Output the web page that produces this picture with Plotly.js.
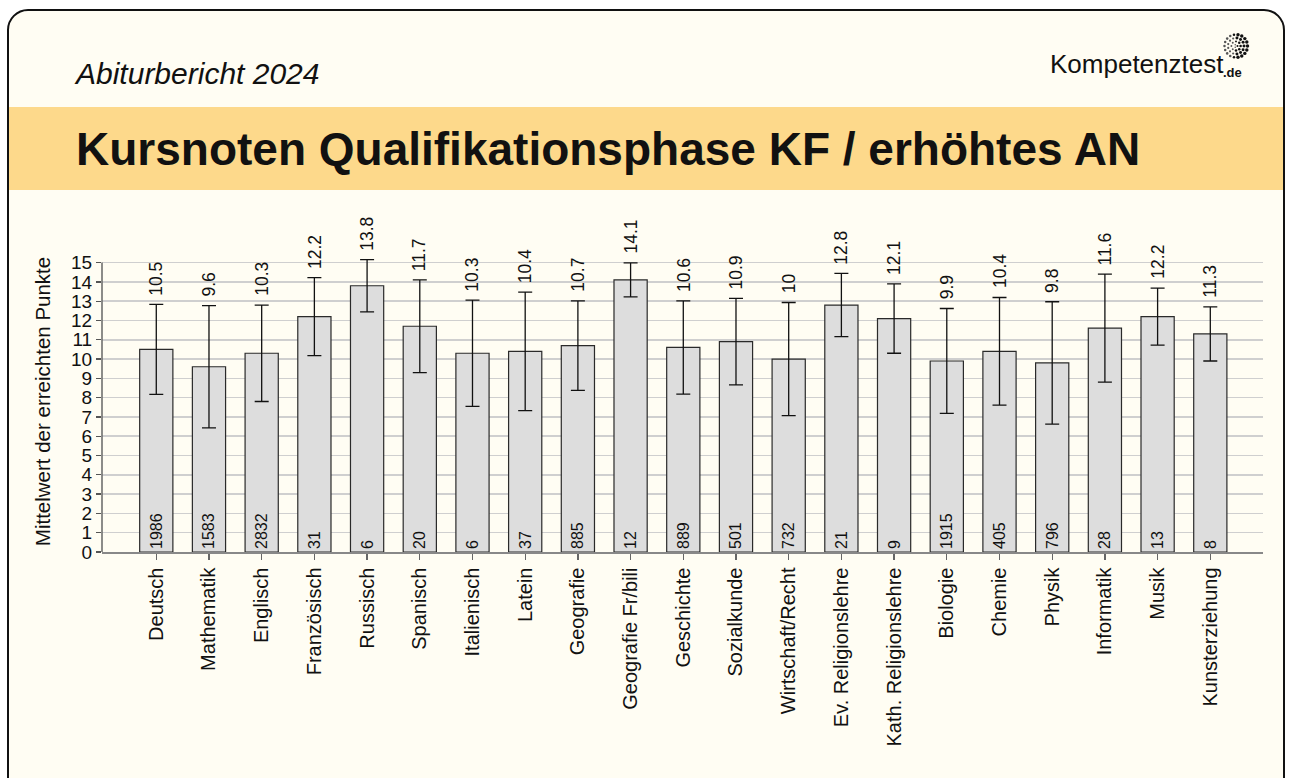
<!DOCTYPE html>
<html>
<head>
<meta charset="utf-8">
<script src="https://cdn.plot.ly/plotly-3.0.1.min.js"></script>
<style>
  html, body { margin:0; padding:0; background:#ffffff; width:1289px; height:778px; overflow:hidden; }
  #card { position:absolute; left:7px; top:9px; width:1278px; height:830px; box-sizing:border-box;
          border:2px solid #111; border-radius:21px; background:#fffdf3; }
  #band { position:absolute; left:9px; top:107px; width:1274px; height:83px; background:#fdd98b; }
  #logoicon { position:absolute; left:1222px; top:32px; }
  #chart { position:absolute; left:0; top:0; width:1289px; height:778px; }
</style>
</head>
<body>
<div id="card"></div>
<div id="band"></div>
<svg id="logoicon" width="30" height="30" viewBox="0 0 30 30"></svg>
<div id="chart"></div>
<script>
// ---- data ----
const subjects = ["Deutsch","Mathematik","Englisch","Französisch","Russisch","Spanisch","Italienisch","Latein","Geografie","Geografie Fr/bili","Geschichte","Sozialkunde","Wirtschaft/Recht","Ev. Religionslehre","Kath. Religionslehre","Biologie","Chemie","Physik","Informatik","Musik","Kunsterziehung"];
const means = [10.5, 9.6, 10.3, 12.2, 13.8, 11.7, 10.3, 10.4, 10.7, 14.1, 10.6, 10.9, 10, 12.8, 12.1, 9.9, 10.4, 9.8, 11.6, 12.2, 11.3];
const sds = [2.33, 3.17, 2.5, 2.02, 1.35, 2.4, 2.75, 3.07, 2.32, 0.88, 2.42, 2.24, 2.93, 1.64, 1.8, 2.72, 2.79, 3.17, 2.8, 1.48, 1.4];
const counts = [1986, 1583, 2832, 31, 6, 20, 6, 37, 885, 12, 889, 501, 732, 21, 9, 1915, 405, 796, 28, 13, 8];
const yTicks = [0,1,2,3,4,5,6,7,8,9,10,11,12,13,14,15];

// ---- logo icon (decorative) ----
(function(){
  const svg = document.getElementById('logoicon');
  const cx = 14, cy = 14;
  const rings = [[11.5, 18, 1.5], [8, 13, 1.3], [4.6, 8, 1.1], [1.5, 3, 0.9]];
  rings.forEach(function(r){
    for (let k = 0; k < r[1]; k++) {
      const a = 2*Math.PI*k/r[1];
      const x = cx + r[0]*Math.cos(a), y = cy + r[0]*Math.sin(a);
      const dark = Math.cos(a) > -0.2 ? '#111' : '#555';
      const c = document.createElementNS('http://www.w3.org/2000/svg','circle');
      c.setAttribute('cx', x.toFixed(2)); c.setAttribute('cy', y.toFixed(2));
      c.setAttribute('r', (r[2] * (Math.cos(a) > 0 ? 1.15 : 0.85)).toFixed(2));
      c.setAttribute('fill', dark);
      svg.appendChild(c);
    }
  });
})();

const FONT = "Liberation Sans, Arial, Helvetica, sans-serif";

const barTrace = {
  type: 'bar',
  x: subjects,
  y: means,
  width: 0.63,
  marker: { color: '#dddddd', line: { color: '#2a2a2a', width: 1.2 } },
  error_y: { type: 'data', array: sds, symmetric: true, visible: true, color: '#111111', thickness: 1.3, width: 7 },
  text: counts.map(String),
  textposition: 'inside',
  insidetextanchor: 'start',
  textangle: -90,
  constraintext: 'none',
  insidetextfont: { family: FONT, size: 16, color: '#111' },
  cliponaxis: false,
  hoverinfo: 'x+y'
};

const annotations = [];
// mean labels just above the top of each error bar
subjects.forEach(function(s, i){
  annotations.push({
    x: s, y: means[i] + sds[i], xref: 'x', yref: 'y',
    text: String(means[i]), textangle: -90, showarrow: false,
    yanchor: 'bottom', xanchor: 'center', yshift: 7,
    font: { family: FONT, size: 17.5, color: '#111' }
  });
});
// header texts
annotations.push({
  xref: 'paper', yref: 'paper', x: (72 - 102)/1161, y: (551.7 - 73)/301,
  xanchor: 'left', yanchor: 'middle', showarrow: false,
  text: '<i>Abiturbericht 2024</i>', font: { family: FONT, size: 30, color: '#111' }
});
annotations.push({
  xref: 'paper', yref: 'paper', x: (1226 - 102)/1161, y: (551.7 - 64)/301,
  xanchor: 'right', yanchor: 'middle', showarrow: false,
  text: 'Kompetenztest', font: { family: FONT, size: 26, color: '#111' }
});
annotations.push({
  xref: 'paper', yref: 'paper', x: (1221 - 102)/1161, y: (551.7 - 72)/301,
  xanchor: 'left', yanchor: 'middle', showarrow: false,
  text: '<b>.de</b>', font: { family: FONT, size: 13, color: '#111' }
});

const layout = {
  width: 1289, height: 778,
  margin: { l: 102, r: 26, t: 251, b: 226, pad: 0 },
  paper_bgcolor: 'rgba(0,0,0,0)',
  plot_bgcolor: 'rgba(0,0,0,0)',
  showlegend: false,
  font: { family: FONT, color: '#111' },
  title: {
    text: '<b>Kursnoten Qualifikationsphase KF / erhöhtes AN</b>',
    xref: 'container', yref: 'container',
    x: 76/1289, xanchor: 'left',
    y: 1 - 149/778, yanchor: 'middle',
    font: { family: FONT, size: 46, color: '#111' }
  },
  xaxis: {
    type: 'category',
    range: [-1.03, 21.0],
    tickangle: -90,
    ticks: 'outside', ticklen: 6, tickcolor: '#666', tickwidth: 1.3,
    showline: true, linecolor: '#888', linewidth: 1.5,
    showgrid: false, zeroline: false,
    tickfont: { family: FONT, size: 20, color: '#111' },
    fixedrange: true
  },
  yaxis: {
    range: [0, 15.6],
    tickvals: yTicks,
    ticktext: yTicks.map(String),
    ticks: 'outside', ticklen: 5, tickcolor: '#555', tickwidth: 1.3,
    showline: false,
    showgrid: true, gridcolor: '#cfcfcf', gridwidth: 1.5,
    zeroline: false,
    tickfont: { family: FONT, size: 19, color: '#111' },
    title: { text: 'Mittelwert der erreichten Punkte', font: { family: FONT, size: 20.5, color: '#111' }, standoff: 14 },
    fixedrange: true
  },
  shapes: [
    // y axis line from 0 to 15
    { type: 'line', xref: 'paper', yref: 'y', x0: 0, x1: 0, y0: 0, y1: 15, line: { color: '#666', width: 1.5 }, layer: 'above' }
  ],
  annotations: annotations
};

Plotly.newPlot('chart', [barTrace], layout, { displayModeBar: false, staticPlot: true });
</script>
</body>
</html>
